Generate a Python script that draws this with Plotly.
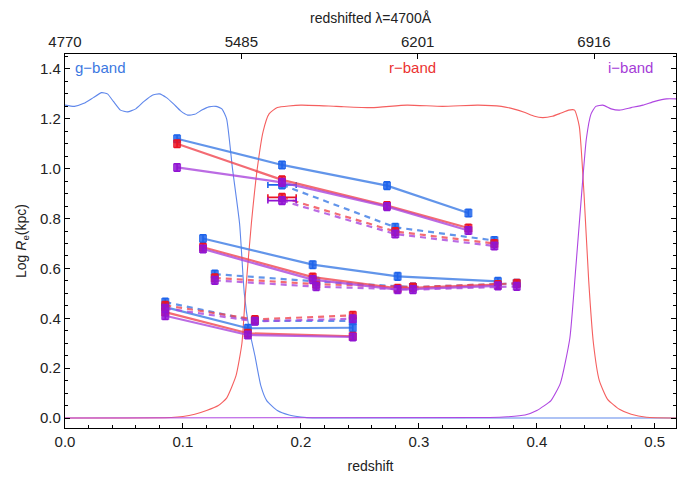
import plotly.graph_objects as go

# ---------------- data ----------------
# filter transmission curves (scaled)
g_z = [0.0, 0.008, 0.016, 0.024, 0.031, 0.036, 0.041, 0.047, 0.053, 0.06, 0.067, 0.074, 0.08, 0.086, 0.092, 0.098, 0.104,
       0.11, 0.116, 0.122, 0.128, 0.133, 0.137, 0.142, 0.148, 0.152, 0.156, 0.161, 0.166, 0.171, 0.18, 0.19, 0.2, 0.21, 0.518]
g_t = [1.255, 1.25, 1.262, 1.285, 1.305, 1.3, 1.27, 1.235, 1.228, 1.24, 1.27, 1.295, 1.3, 1.285, 1.26, 1.232, 1.215,
       1.218, 1.235, 1.248, 1.25, 1.24, 1.2, 1.0, 0.78, 0.5, 0.36, 0.25, 0.13, 0.07, 0.03, 0.012, 0.004, 0.0, 0.0]
r_z = [0.0, 0.09, 0.1, 0.11, 0.12, 0.13, 0.137, 0.145, 0.15, 0.153, 0.158, 0.163, 0.168, 0.173, 0.18, 0.2, 0.23, 0.26, 0.29,
       0.32, 0.35, 0.37, 0.38, 0.39, 0.398, 0.405, 0.413, 0.42, 0.427, 0.432, 0.436, 0.44, 0.444, 0.448, 0.453, 0.46, 0.47,
       0.48, 0.493, 0.518]
r_t = [0.0, 0.002, 0.006, 0.015, 0.03, 0.05, 0.08, 0.17, 0.3, 0.5, 0.78, 1.0, 1.15, 1.22, 1.245, 1.255, 1.25, 1.245, 1.255,
       1.25, 1.255, 1.25, 1.24, 1.225, 1.21, 1.205, 1.21, 1.222, 1.235, 1.235, 1.17, 0.9, 0.55, 0.3, 0.15, 0.075, 0.035,
       0.015, 0.003, 0.0]
i_z = [0.0, 0.36, 0.375, 0.39, 0.4, 0.412, 0.42, 0.428, 0.433, 0.438, 0.442, 0.446, 0.45, 0.456, 0.463, 0.47, 0.48, 0.49,
       0.5, 0.51, 0.518]
i_t = [0.0, 0.002, 0.005, 0.012, 0.03, 0.07, 0.14, 0.32, 0.6, 0.9, 1.12, 1.22, 1.25, 1.255, 1.24, 1.235, 1.245, 1.255,
       1.27, 1.28, 1.28]

band_labels = ["g\u2212band", "r\u2212band", "i\u2212band"]
band_label_z = [0.0065, 0.295, 0.479]

# measured sizes: groups (z values, then g, r, i values)
A_z = [0.095, 0.184, 0.273, 0.342]
A_g = [1.12, 1.015, 0.932, 0.822]
A_r = [1.10, 0.955, 0.852, 0.762]
A_i = [1.005, 0.945, 0.848, 0.752]

B_z = [0.184, 0.28, 0.364]
B_g = [0.935, 0.765, 0.712]
B_r = [0.885, 0.748, 0.700]
B_i = [0.872, 0.738, 0.690]
B_zerr = [0.012, 0.0, 0.0]

C_z = [0.117, 0.21, 0.282, 0.367]
C_g = [0.72, 0.615, 0.568, 0.548]
C_r = [0.685, 0.565, 0.52, 0.535]
C_i = [0.678, 0.555, 0.515, 0.53]

D_z = [0.127, 0.213, 0.295, 0.383]
D_g = [0.577, 0.548, 0.525, 0.54]
D_r = [0.562, 0.537, 0.525, 0.54]
D_i = [0.552, 0.527, 0.515, 0.528]

E_z = [0.085, 0.155, 0.244]
E_g = [0.445, 0.36, 0.362]
E_r = [0.425, 0.34, 0.328]
E_i = [0.41, 0.333, 0.325]

F_z = [0.085, 0.161, 0.244]
F_g = [0.465, 0.39, 0.39]
F_r = [0.452, 0.395, 0.412]
F_i = [0.44, 0.388, 0.398]

y_err = 0.015

top_tick_z = [0.0, 0.1495, 0.299, 0.4485]
top_tick_labels = ["4770", "5485", "6201", "6916"]

# ---------------- styles ----------------
line_col = {"g": "rgba(70,130,230,0.85)", "r": "rgba(240,70,80,0.8)", "i": "rgba(170,70,220,0.8)"}
mark_col = {"g": "rgb(30,100,235)", "r": "rgb(235,20,35)", "i": "rgb(145,20,210)"}
filt_col = {"g": "rgb(95,135,235)", "r": "rgb(245,95,95)", "i": "rgb(175,70,225)"}
label_col = ["rgb(60,120,225)", "rgb(235,50,50)", "rgb(165,60,215)"]
FONT = "Liberation Sans, Arial, sans-serif"

fig = go.Figure()

for z, t, b in [(g_z, g_t, "g"), (r_z, r_t, "r"), (i_z, i_t, "i")]:
    fig.add_trace(go.Scatter(x=z, y=t, mode="lines",
                             line=dict(color=filt_col[b], width=1.1, shape="spline", smoothing=0.5),
                             hoverinfo="skip", showlegend=False))

groups = [
    (A_z, {"g": A_g, "r": A_r, "i": A_i}, "solid", None),
    (B_z, {"g": B_g, "r": B_r, "i": B_i}, "dash", B_zerr),
    (C_z, {"g": C_g, "r": C_r, "i": C_i}, "solid", None),
    (D_z, {"g": D_g, "r": D_r, "i": D_i}, "dash", None),
    (E_z, {"g": E_g, "r": E_r, "i": E_i}, "solid", None),
    (F_z, {"g": F_g, "r": F_r, "i": F_i}, "dash", None),
]

for b in ["g", "r", "i"]:
    for z, vals, dash, zerr in groups:
        fig.add_trace(go.Scatter(
            x=z, y=vals[b], mode="lines",
            line=dict(color=line_col[b], width=2.2, dash="6px,5px" if dash == "dash" else "solid"),
            showlegend=False, hoverinfo="skip"))
        tr = dict(x=z, y=vals[b], mode="markers",
                  marker=dict(symbol="square", size=8, color=mark_col[b], opacity=0.85),
                  error_y=dict(type="constant", value=y_err, color=mark_col[b], thickness=1.6, width=3),
                  showlegend=False)
        if zerr is not None:
            tr["error_x"] = dict(type="data", array=zerr, color=mark_col[b], thickness=1.6, width=3)
        fig.add_trace(go.Scatter(**tr))

# invisible trace for the top axis
fig.add_trace(go.Scatter(x=[0, 0.518], y=[0, 0], xaxis="x2", mode="markers",
                         marker=dict(opacity=0), showlegend=False, hoverinfo="skip"))

for lab, z, c in zip(band_labels, band_label_z, label_col):
    fig.add_annotation(x=z, y=1.405, text=lab, showarrow=False, font=dict(color=c, size=15, family=FONT),
                       xanchor="left" if z < 0.05 else "center")

axis_common = dict(showgrid=False, zeroline=False, linecolor="black", linewidth=1.2, automargin=False,
                   ticks="inside", tickcolor="black", tickfont=dict(size=15, family=FONT, color="#222"))

fig.update_layout(
    width=683, height=469,
    margin=dict(l=57, r=15, t=46, b=49),
    plot_bgcolor="white", paper_bgcolor="white",
    font=dict(family=FONT, color="#222"),
    xaxis=dict(range=[0, 0.518], dtick=0.1, tickformat=".1f", ticklen=5, mirror=True,
               minor=dict(dtick=0.02, ticks="inside", ticklen=3, tickcolor="black"),
               title=dict(text="redshift", font=dict(size=14, family=FONT), standoff=12), **axis_common),
    xaxis2=dict(range=[0, 0.518], overlaying="x", side="top", tickvals=top_tick_z, ticktext=top_tick_labels,
                ticklen=5, title=dict(text="redshifted \u03bb=4700\u00c5", font=dict(size=14, family=FONT), standoff=6),
                **axis_common),
    yaxis=dict(range=[-0.04, 1.46], dtick=0.2, tickformat=".1f", ticklen=5, mirror="ticks",
               minor=dict(dtick=0.05, ticks="inside", ticklen=3, tickcolor="black"),
               title=dict(text="Log <i>R</i><sub>e</sub>(kpc)", font=dict(size=14, family=FONT), standoff=10),
               **axis_common),
)

fig.write_html("out.html")
